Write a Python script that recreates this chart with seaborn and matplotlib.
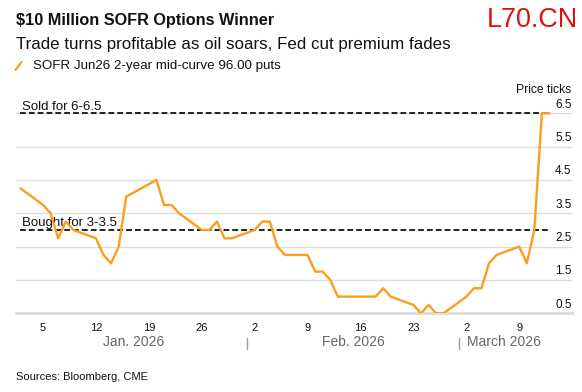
import numpy as np
import pandas as pd
import matplotlib
matplotlib.use("Agg")
import matplotlib.pyplot as plt
import matplotlib.dates as mdates
from matplotlib import transforms
from matplotlib.lines import Line2D
import seaborn as sns

# price of the SOFR Jun26 2-year mid-curve 96.00 puts, in ticks
dates = ["2026-01-02", "2026-01-05", "2026-01-06", "2026-01-07", "2026-01-08", "2026-01-09",
         "2026-01-12", "2026-01-13", "2026-01-14", "2026-01-15", "2026-01-16",
         "2026-01-20", "2026-01-21", "2026-01-22", "2026-01-23",
         "2026-01-26", "2026-01-27", "2026-01-28", "2026-01-29", "2026-01-30",
         "2026-02-02", "2026-02-03", "2026-02-04", "2026-02-05", "2026-02-06",
         "2026-02-09", "2026-02-10", "2026-02-11", "2026-02-12", "2026-02-13",
         "2026-02-17", "2026-02-18", "2026-02-19", "2026-02-20",
         "2026-02-23", "2026-02-24", "2026-02-25", "2026-02-26", "2026-02-27",
         "2026-03-02", "2026-03-03", "2026-03-04", "2026-03-05", "2026-03-06",
         "2026-03-09", "2026-03-10", "2026-03-11", "2026-03-12", "2026-03-13"]
ticks = [4.25, 3.75, 3.5, 2.75, 3.25, 3.0,
         2.75, 2.25, 2.0, 2.5, 4.0,
         4.5, 3.75, 3.75, 3.5,
         3.0, 3.0, 3.25, 2.75, 2.75,
         3.0, 3.25, 3.25, 2.5, 2.25,
         2.25, 1.75, 1.75, 1.5, 1.0,
         1.0, 1.0, 1.25, 1.0,
         0.75, 0.5, 0.75, 0.5, 0.5,
         1.0, 1.25, 1.25, 2.0, 2.25,
         2.5, 2.0, 3.0, 6.5, 6.5]

bought_level = 3.0
sold_level = 6.5
bought_label = "Bought for 3-3.5"
sold_label = "Sold for 6-6.5"

ytick_vals = [0.5, 1.5, 2.5, 3.5, 4.5, 5.5, 6.5]
month_names = ["Jan. 2026", "Feb. 2026", "March 2026"]
month_starts = ["2026-02-01", "2026-03-01"]

orange = "#fd9d1c"

df = pd.DataFrame({"date": pd.to_datetime(dates), "ticks": ticks})

sns.set_style("white")
plt.rcParams["font.family"] = ["Liberation Sans", "DejaVu Sans"]

W, H = 582, 392
fig = plt.figure(figsize=(W / 100, H / 100), dpi=100)
ax = fig.add_axes([16 / W, 1 - 313.3 / H, 555.5 / W, 216.7 / H])

ax.set_ylim(0.5, 7.0)
ax.set_xlim(pd.Timestamp("2026-01-01 10:00"), pd.Timestamp("2026-03-15 22:00"))

# gridlines
ax.set_yticks(ytick_vals)
ax.yaxis.grid(True, color="#dddddd", lw=1)
ax.tick_params(axis="y", length=0, labelleft=False)
for s in ["top", "right", "left"]:
    ax.spines[s].set_visible(False)
ax.spines["bottom"].set_color("#dcdcdc")
ax.spines["bottom"].set_linewidth(2)

# reference lines
ax.hlines([sold_level, bought_level], df.date.iloc[0], df.date.iloc[-1],
          colors="#111111", lw=1.3, linestyles=(0, (3.2, 1.7)), zorder=3)
lab_tr = transforms.offset_copy(ax.transData, fig=fig, x=1.5, y=2.5, units="points")
ax.text(df.date.iloc[0], sold_level, sold_label, transform=lab_tr,
        ha="left", va="baseline", fontsize=9.5, color="#111111")
ax.text(df.date.iloc[0], bought_level, bought_label, transform=lab_tr,
        ha="left", va="baseline", fontsize=9.5, color="#111111")

sns.lineplot(data=df, x="date", y="ticks", ax=ax, color=orange, lw=1.7,
             legend=False, zorder=4)
ax.set_xlabel("")
ax.set_ylabel("")

# right side value labels
ytr = transforms.offset_copy(ax.get_yaxis_transform(), fig=fig, y=4, units="points")
for v in ytick_vals:
    ax.text(1.0, v, f"{v:.1f}", transform=ytr, ha="right", va="baseline",
            fontsize=8.5, color="#111111")
ax.text(1.0, 1.0, "Price ticks", transform=transforms.offset_copy(
    ax.transAxes, fig=fig, y=2.5, units="points"),
    ha="right", va="baseline", fontsize=8.7, color="#111111")

# x axis: weekly ticks on Mondays
ax.xaxis.set_major_locator(mdates.WeekdayLocator(byweekday=mdates.MO))
ax.xaxis.set_major_formatter(plt.FuncFormatter(lambda x, p: str(mdates.num2date(x).day)))
ax.tick_params(axis="x", which="major", length=4.8, width=1, color="#555555",
               pad=2, labelsize=8, labelcolor="#111111")
ms = pd.to_datetime(month_starts)
ax.set_xticks(ms, minor=True)
ax.tick_params(axis="x", which="minor", length=4.8, width=1, color="#aaaaaa")

# month separators and labels
xtr = ax.get_xaxis_transform()
for m in ms:
    ax.plot([m, m], [-0.113, -0.165], transform=xtr, color="#999999", lw=1, clip_on=False)
bounds = [df.date.iloc[0]] + list(ms) + [df.date.iloc[-1]]
for i, name in enumerate(month_names):
    mid = bounds[i] + (bounds[i + 1] - bounds[i]) / 2
    ax.text(mid, -0.1345, name, transform=xtr, ha="center", va="center",
            fontsize=10, color="#666666")

# header
fig.text(16 / W, 1 - 25 / H, "$10 Million SOFR Options Winner", fontsize=11.7,
         fontweight="bold", color="#111111", va="baseline")
fig.text(16 / W, 1 - 49 / H, "Trade turns profitable as oil soars, Fed cut premium fades",
         fontsize=12.2, color="#111111", va="baseline")
fig.add_artist(Line2D([15.5 / W, 21.5 / W], [1 - 70 / H, 1 - 62 / H], color=orange, lw=1.6))
fig.text(33 / W, 1 - 69.5 / H, "SOFR Jun26 2-year mid-curve 96.00 puts", fontsize=9.6,
         color="#111111", va="baseline")
fig.text(578 / W, 1 - 26.7 / H, "L70.CN", fontsize=19.4, color="#dd1111",
         ha="right", va="baseline")
fig.text(16 / W, 1 - 380 / H, "Sources: Bloomberg, CME", fontsize=8,
         color="#111111", va="baseline")

fig.savefig("out.png", dpi=100)
